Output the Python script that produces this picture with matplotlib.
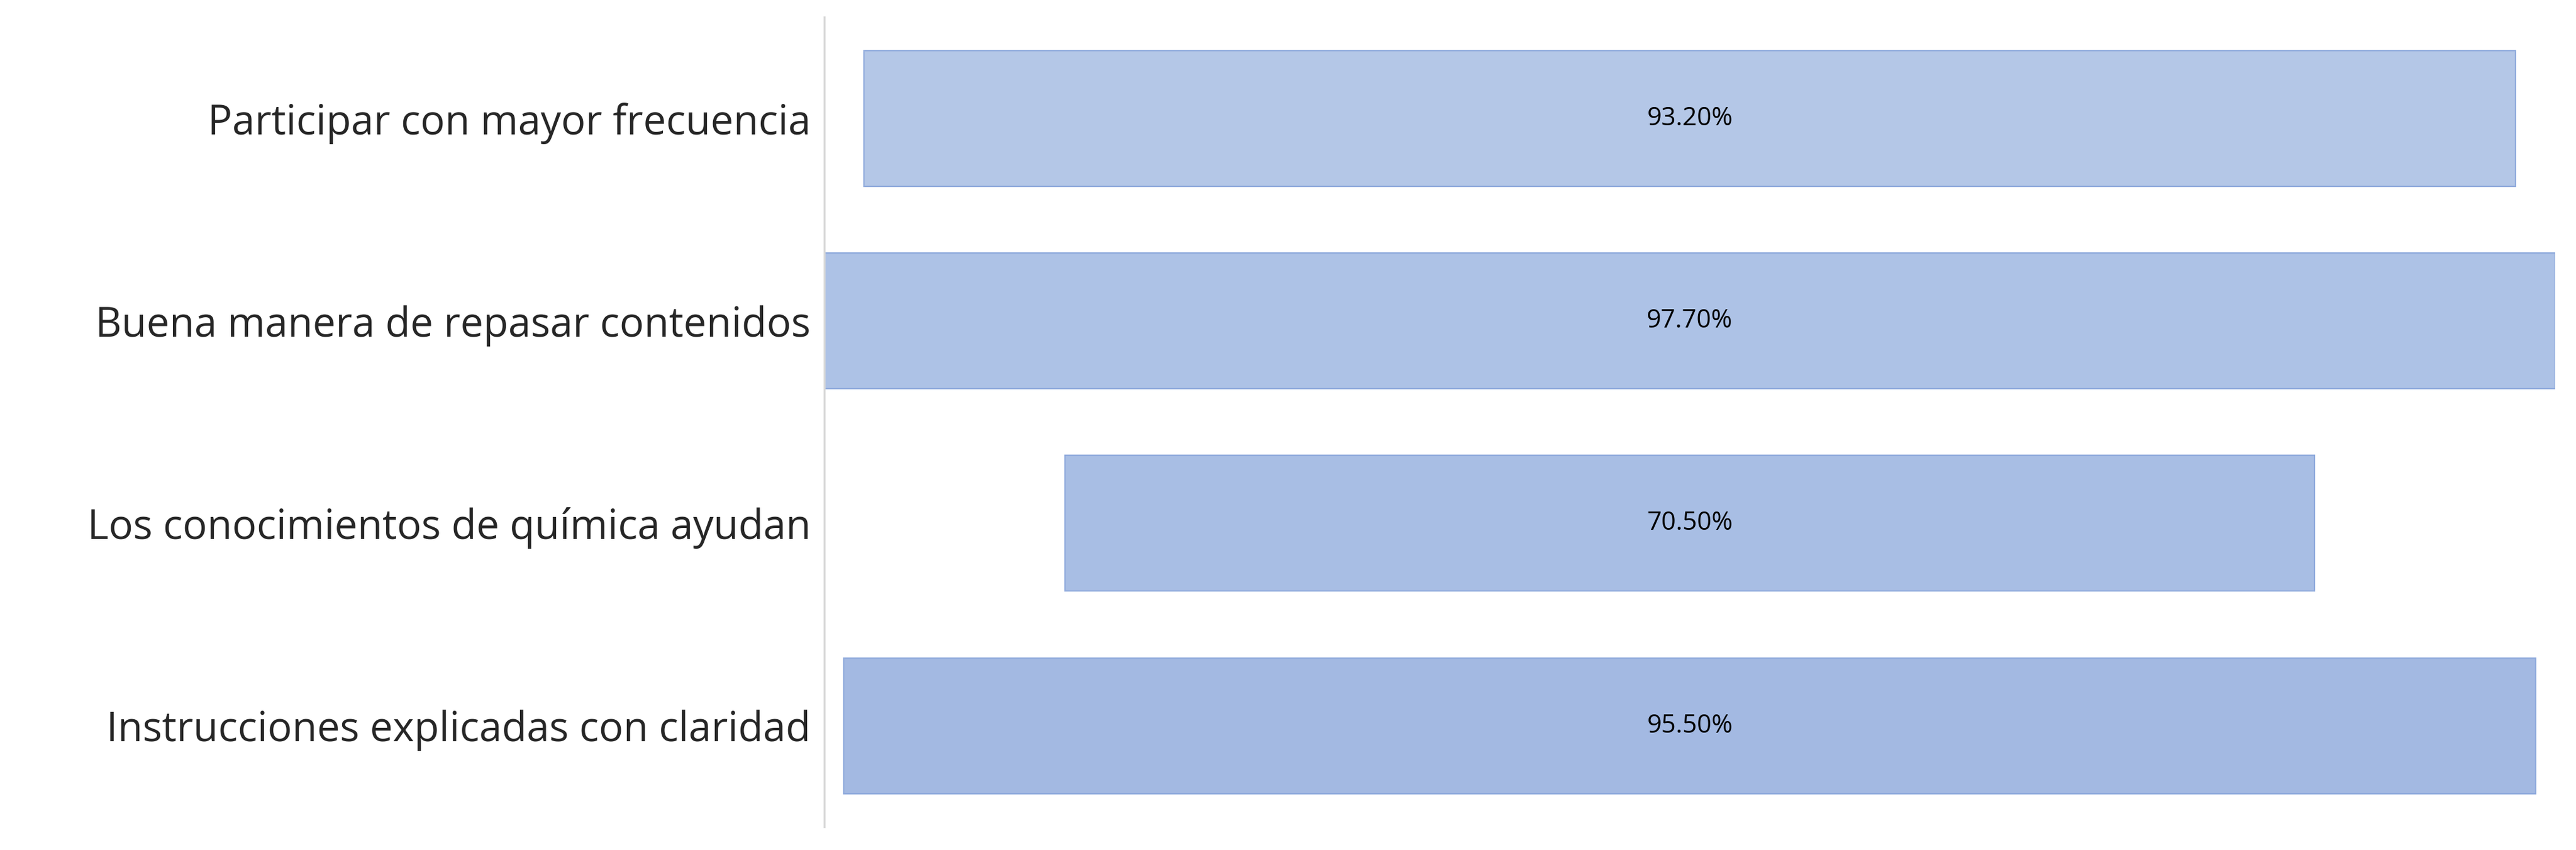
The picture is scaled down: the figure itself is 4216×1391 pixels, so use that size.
import matplotlib.pyplot as plt

categorias = ["Participar con mayor frecuencia",
              "Buena manera de repasar contenidos",
              "Los conocimientos de química ayudan",
              "Instrucciones explicadas con claridad"]
valores = [93.2, 97.7, 70.5, 95.5]
etiquetas = ["93.20%", "97.70%", "70.50%", "95.50%"]
colores = ["#b4c7e7", "#adc2e6", "#a8bee4", "#a3b9e2"]

plt.rcParams['font.family'] = ['Open Sans', 'DejaVu Sans']
fig = plt.figure(figsize=(21.08, 6.955), dpi=200)
ax = fig.add_axes([0.32, 0.027, 0.672, 0.953])

pos = list(range(len(valores)))
for i, v in enumerate(valores):
    ax.barh(i, v, left=-v / 2, height=0.67, color=colores[i], edgecolor="#8faadc", linewidth=0.8)
    ax.text(0, i, etiquetas[i], ha="center", va="center", fontsize=15, color="black")

ax.set_xlim(-48.85, 48.85)
ax.set_ylim(3.5, -0.5)
ax.set_yticks(pos)
ax.set_yticklabels(categorias, fontsize=24, color="#262626")
ax.tick_params(axis="y", length=0, pad=8)
ax.set_xticks([])
for s in ["top", "right", "bottom"]:
    ax.spines[s].set_visible(False)
ax.spines["left"].set_color("#d9d9d9")
ax.spines["left"].set_linewidth(1.2)

fig.savefig("out.png")
